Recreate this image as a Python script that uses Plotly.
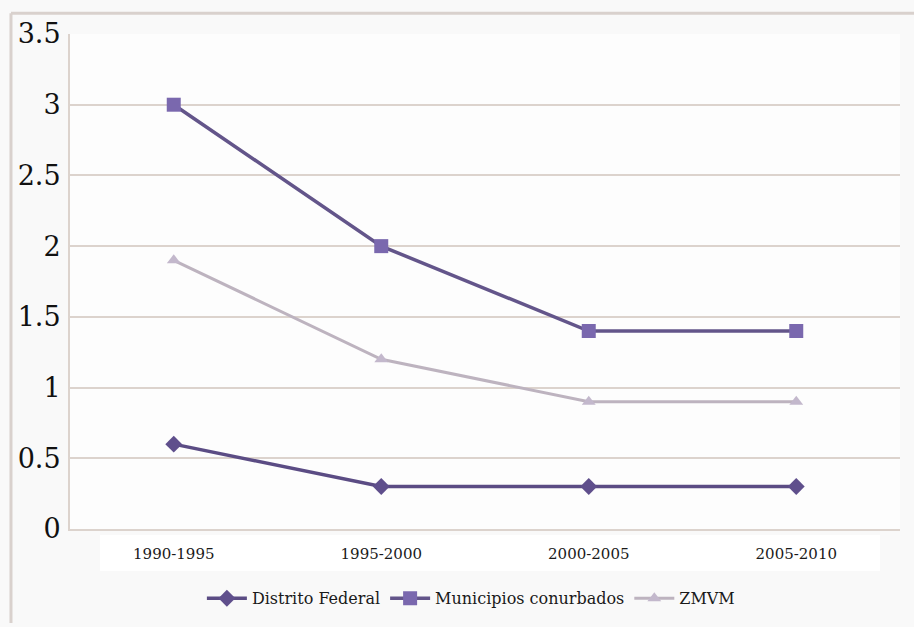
import plotly.graph_objects as go

periods = ["1990-1995", "1995-2000", "2000-2005", "2005-2010"]
distrito_federal = [0.6, 0.3, 0.3, 0.3]
municipios_conurbados = [3.0, 2.0, 1.4, 1.4]
zmvm = [1.9, 1.2, 0.9, 0.9]
y_ticks = [0, 0.5, 1, 1.5, 2, 2.5, 3, 3.5]
y_tick_text = ["0", "0.5", "1", "1.5", "2", "2.5", "3", "3.5"]

SERIF = "DejaVu Serif"
GRID = "#dcd3cd"

fig = go.Figure()
fig.add_trace(go.Scatter(
    x=periods, y=distrito_federal, name="Distrito Federal",
    mode="lines+markers",
    line=dict(color="#5b4c84", width=3.5),
    marker=dict(symbol="diamond", size=13, color="#5f4f8c"),
))
fig.add_trace(go.Scatter(
    x=periods, y=municipios_conurbados, name="Municipios conurbados",
    mode="lines+markers",
    line=dict(color="#63558a", width=3.5),
    marker=dict(symbol="square", size=14, color="#7a68ae"),
))
fig.add_trace(go.Scatter(
    x=periods, y=zmvm, name="ZMVM",
    mode="lines+markers",
    line=dict(color="#bdb3bf", width=3),
    marker=dict(symbol="triangle-up", size=12, color="#c3b8cc"),
))

# outer frame lines on the page
fig.add_shape(type="line", xref="paper", yref="paper", x0=-0.0711, x1=-0.0711,
              y0=-0.19, y1=1.042, line=dict(color="#d9d1cd", width=3))
fig.add_shape(type="line", xref="paper", yref="paper", x0=-0.0711, x1=1.02,
              y0=1.042, y1=1.042, line=dict(color="#d9d1cd", width=3))
# white band behind the category labels
fig.add_shape(type="rect", xref="paper", yref="paper", x0=0.036, x1=0.976,
              y0=-0.085, y1=-0.012, fillcolor="white", line=dict(width=0), layer="below")

fig.update_layout(
    width=914, height=627,
    margin=dict(l=70, r=14, t=34, b=94),
    paper_bgcolor="#f9f9f9",
    plot_bgcolor="#fdfdfd",
    showlegend=True,
    legend=dict(
        orientation="h", x=0.483, xanchor="center", y=-0.14, yanchor="middle",
        font=dict(family=SERIF, size=16, color="#1a1a1a"),
        bgcolor="rgba(0,0,0,0)", itemwidth=40, traceorder="normal",
    ),
    xaxis=dict(
        type="category", showgrid=False, showline=True, linecolor=GRID, linewidth=2,
        tickfont=dict(family=SERIF, size=15, color="#1a1a1a"),
        ticks="", ticklabelstandoff=10, range=[-0.5, 3.5],
    ),
    yaxis=dict(
        range=[0, 3.5], tickvals=y_ticks, ticktext=y_tick_text,
        showgrid=True, gridcolor=GRID, gridwidth=2,
        showline=True, linecolor=GRID, linewidth=2, zeroline=False,
        tickfont=dict(family=SERIF, size=27, color="#111111"),
        ticks="", ticklabelstandoff=2,
    ),
)

fig.write_html("out.html")
